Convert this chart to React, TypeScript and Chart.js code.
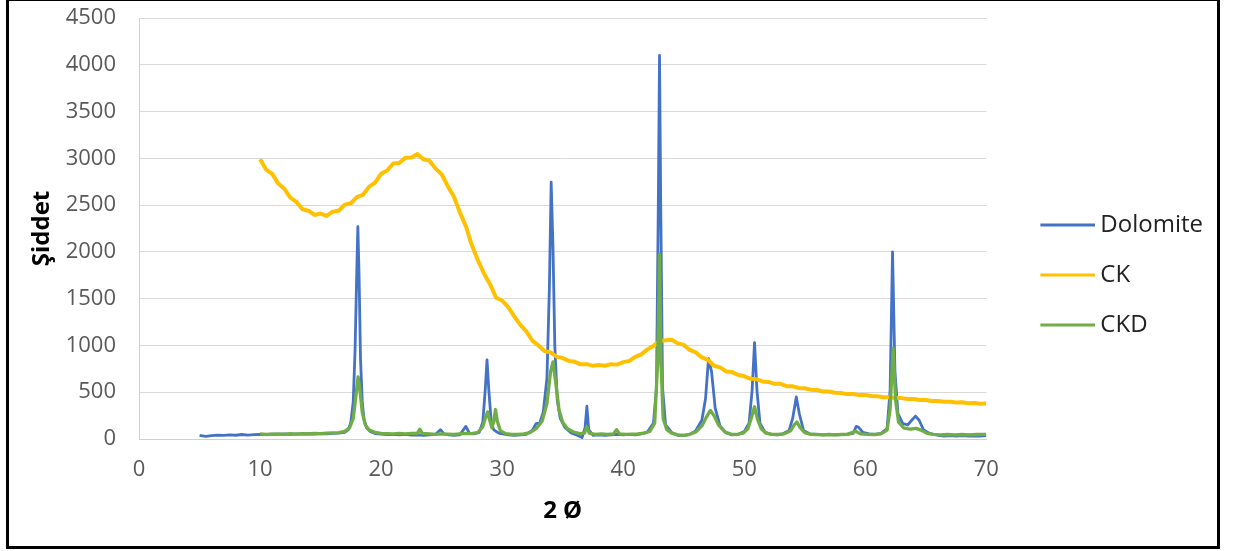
import React, { useEffect, useRef } from "react";
import { Chart, registerables } from "chart.js";

Chart.register(...registerables);

// ---- data ----
const seriesNames = ["Dolomite", "CK", "CKD"];
const seriesColors = ["#4472C4", "#FFC000", "#70AD47"];

const xTickValues = [0, 10, 20, 30, 40, 50, 60, 70];
const yTickValues = [0, 500, 1000, 1500, 2000, 2500, 3000, 3500, 4000, 4500];

const dolomiteX = [
  5, 5.5, 6, 6.5, 7, 7.5, 8, 8.5, 9, 9.5, 10, 10.5, 11, 11.5, 12, 12.5, 13, 13.5, 14, 14.5, 15, 15.5, 16, 16.5,
  17, 17.3, 17.5, 17.7, 17.85, 18.0, 18.08, 18.18, 18.3, 18.45, 18.6, 18.8, 19.1, 19.5, 20, 20.5, 21, 21.5, 22,
  22.5, 23, 23.5, 24, 24.5, 24.9, 25.2, 25.6, 26, 26.5, 27.0, 27.3, 27.7, 28.1, 28.4, 28.6, 28.75, 28.9, 29.1,
  29.3, 29.5, 29.8, 30.5, 31, 31.5, 32, 32.5, 32.8, 33.1, 33.4, 33.7, 33.9, 34.05, 34.2, 34.35, 34.55, 34.8, 35.2,
  35.7, 36.2, 36.6, 36.85, 37.0, 37.15, 37.5, 38, 38.5, 39, 39.5, 40, 40.5, 41, 41.5, 42, 42.5, 42.75, 42.9, 43.0,
  43.1, 43.25, 43.5, 44, 44.5, 45, 45.5, 46, 46.5, 46.8, 47.05, 47.3, 47.6, 48, 48.5, 49, 49.5, 50, 50.4, 50.65,
  50.85, 51.05, 51.3, 51.7, 52.2, 52.7, 53.2, 53.7, 54.0, 54.3, 54.55, 54.9, 55.4, 56, 56.5, 57, 57.5, 58, 58.5,
  59, 59.25, 59.45, 59.8, 60.3, 60.8, 61.3, 61.8, 62.05, 62.25, 62.45, 62.7, 63.1, 63.5, 63.8, 64.15, 64.45, 64.8,
  65.3, 66, 66.5, 67, 67.5, 68, 68.5, 69, 69.5, 70,
];
const dolomiteY = [
  40, 28, 35, 42, 38, 45, 40, 48, 42, 46, 50, 48, 52, 50, 55, 50, 54, 52, 56, 53, 58, 55, 60, 62,
  72, 100, 180, 400, 950, 1850, 2270, 1750, 850, 380, 200, 120, 80, 58, 52, 48, 50, 45, 50,
  42, 45, 40, 45, 50, 100, 55, 45, 40, 45, 135, 60, 55, 70, 180, 520, 845, 520, 180,
  100, 80, 60, 45, 40, 45, 50, 95, 165, 170, 290, 650, 1600, 2745, 2050, 1000, 420, 220, 120,
  65, 40, 15, 120, 350, 100, 40, 45, 40, 45, 50, 45, 50, 45, 55, 75, 170, 550, 2500, 4100,
  2500, 550, 150, 70, 40, 35, 50, 90, 200, 430, 860, 720, 330, 140, 65, 45, 50, 80, 170, 520,
  1030, 520, 170, 75, 50, 45, 55, 90, 220, 450, 270, 90, 55, 50, 45, 50, 45, 48, 50,
  60, 135, 125, 70, 55, 50, 60, 110, 520, 2000, 720, 270, 165, 150, 195, 245, 200, 100,
  60, 40, 30, 35, 30, 35, 30, 32, 30, 35,
];

const ckX = [
  10, 10.5, 11, 11.5, 12, 12.5, 13, 13.5, 14, 14.5, 15, 15.5, 16, 16.5, 17, 17.5, 18, 18.5, 19, 19.5,
  20, 20.5, 21, 21.5, 22, 22.5, 23, 23.5, 24, 24.5, 25, 25.5, 26, 26.5, 27, 27.5, 28, 28.5, 29, 29.5,
  30, 30.5, 31, 31.5, 32, 32.5, 33, 33.5, 34, 34.5, 35, 35.5, 36, 36.5, 37, 37.5, 38, 38.5, 39, 39.5,
  40, 40.5, 41, 41.5, 42, 42.5, 43, 43.5, 44, 44.5, 45, 45.5, 46, 46.5, 47, 47.5, 48, 48.5, 49, 49.5,
  50, 50.5, 51, 51.5, 52, 52.5, 53, 53.5, 54, 54.5, 55, 55.5, 56, 56.5, 57, 57.5, 58, 58.5, 59, 59.5,
  60, 60.5, 61, 61.5, 62, 62.5, 63, 63.5, 64, 64.5, 65, 65.5, 66, 66.5, 67, 67.5, 68, 68.5, 69, 69.5, 70,
];
const ckY = [
  2990, 2880, 2835, 2730, 2675, 2580, 2535, 2455, 2440, 2395, 2410, 2385, 2430, 2440, 2505, 2520, 2585, 2610, 2695, 2740,
  2835, 2870, 2945, 2950, 3005, 3010, 3045, 2990, 2975, 2890, 2830, 2705, 2595, 2425, 2275, 2070, 1910, 1770, 1655, 1510,
  1480, 1410, 1310, 1220, 1150, 1050, 1000, 940, 925, 880, 865, 835, 825, 798, 800, 782, 792, 783, 800, 795,
  822, 835, 878, 905, 958, 995, 1048, 1055, 1062, 1022, 1006, 952, 925, 872, 846, 783, 765, 722, 715, 684,
  670, 645, 640, 615, 610, 590, 590, 565, 563, 545, 543, 526, 523, 508, 507, 494, 492, 480, 480, 469,
  470, 459, 457, 447, 447, 437, 437, 427, 427, 417, 417, 407, 407, 398, 399, 390, 392, 383, 384, 377, 380,
];

const ckdX = [
  10, 10.5, 11, 11.5, 12, 12.5, 13, 13.5, 14, 14.5, 15, 15.5, 16, 16.5, 17, 17.4, 17.7, 17.9, 18.1, 18.25, 18.45,
  18.7, 19, 19.5, 20, 20.5, 21, 21.5, 22, 22.5, 23.0, 23.2, 23.4, 24, 24.5, 25, 25.5, 26, 26.5, 27, 27.5, 28,
  28.4, 28.65, 28.8, 28.95, 29.15, 29.3, 29.45, 29.6, 29.85, 30.3, 30.8, 31.3, 31.8, 32.3, 32.8, 33.3, 33.7, 34.0,
  34.2, 34.45, 34.7, 35, 35.4, 35.9, 36.4, 36.8, 37.0, 37.2, 37.7, 38.2, 38.7, 39.2, 39.45, 39.7, 40.2, 40.7,
  41.2, 41.7, 42.2, 42.6, 42.85, 43.0, 43.12, 43.3, 43.6, 44, 44.5, 45, 45.5, 46, 46.5, 46.9, 47.2, 47.5, 47.9,
  48.4, 48.9, 49.4, 49.9, 50.3, 50.6, 50.85, 51.1, 51.4, 51.8, 52.3, 52.8, 53.3, 53.8, 54.1, 54.35, 54.6, 55,
  55.5, 56, 56.5, 57, 57.5, 58, 58.5, 59.2, 59.6, 60.2, 60.8, 61.3, 61.8, 62.05, 62.3, 62.5, 62.75, 63.2, 63.7,
  64.2, 64.6, 65.1, 65.6, 66.2, 66.8, 67.4, 68, 68.6, 69.2, 70,
];
const ckdY = [
  55, 48, 52, 55, 50, 56, 52, 58, 55, 60, 57, 62, 65, 68, 82, 120, 220, 440, 665, 520, 280,
  150, 100, 70, 60, 58, 55, 60, 55, 60, 60, 105, 60, 55, 50, 55, 52, 50, 55, 60, 58, 72,
  130, 240, 290, 210, 120, 185, 315, 190, 90, 58, 50, 48, 55, 68, 110, 190, 380, 720,
  825, 580, 310, 180, 110, 75, 58, 62, 130, 62, 50, 55, 50, 55, 100, 55, 50, 52,
  55, 62, 80, 170, 820, 1975, 820, 220, 100, 62, 45, 40, 50, 75, 140, 240, 305, 250, 145,
  75, 52, 48, 62, 110, 230, 345, 210, 110, 62, 50, 48, 55, 85, 145, 182, 125, 68,
  50, 48, 45, 48, 45, 48, 50, 82, 55, 50, 48, 55, 95, 320, 970, 420, 180, 115, 105,
  114, 95, 60, 50, 45, 48, 45, 48, 45, 48, 50,
];

const toPoints = (xs: number[], ys: number[]) => xs.map((x, i) => ({ x, y: ys[i] }));

function legendLine(color: string): HTMLCanvasElement {
  const c = document.createElement("canvas");
  c.width = 90;
  c.height = 8;
  const g = c.getContext("2d")!;
  g.strokeStyle = color;
  g.lineWidth = 3;
  g.beginPath();
  g.moveTo(35, 4);
  g.lineTo(90, 4);
  g.stroke();
  return c;
}

export default function App() {
  const canvasRef = useRef<HTMLCanvasElement | null>(null);

  useEffect(() => {
    const canvas = canvasRef.current;
    if (!canvas) return;
    const font = "'Open Sans', sans-serif";
    const seriesData = [toPoints(dolomiteX, dolomiteY), toPoints(ckX, ckY), toPoints(ckdX, ckdY)];
    const widths = [2.8, 4, 3.3];
    const chart = new Chart(canvas, {
      type: "line",
      data: {
        datasets: seriesNames.map((name, i) => ({
          label: name,
          data: seriesData[i],
          borderColor: seriesColors[i],
          backgroundColor: seriesColors[i],
          borderWidth: widths[i],
          borderJoinStyle: "round",
          pointRadius: 0,
          pointHoverRadius: 0,
          pointStyle: legendLine(seriesColors[i]) as any,
          tension: 0,
          fill: false,
          order: 3 - i,
        })),
      },
      options: {
        responsive: false,
        animation: false,
        devicePixelRatio: 1,
        layout: { padding: { left: 10, right: 30, top: 18, bottom: 19 } },
        plugins: {
          tooltip: { enabled: false },
          legend: {
            position: "right",
            labels: {
              usePointStyle: true,
              pointStyleWidth: 76,
              padding: 26,
              color: "#222",
              font: { family: font, size: 24 },
              sort: (a: any, b: any) => a.datasetIndex - b.datasetIndex,
            },
          },
        },
        scales: {
          x: {
            type: "linear",
            min: 0,
            max: 70,
            afterBuildTicks: (scale: any) => {
              scale.ticks = xTickValues.map((v) => ({ value: v }));
            },
            afterFit: (scale: any) => {
              scale.height = 93;
            },
            grid: { display: true, drawOnChartArea: false, drawTicks: true, tickLength: 18, tickColor: "rgba(0,0,0,0)" },
            border: { display: true, color: "#d0d0d0", width: 1 },
            ticks: {
              color: "#595959",
              font: { family: font, size: 22 },
              padding: 0,
              maxRotation: 0,
              callback: (v: any) => String(v),
            },
            title: {
              display: true,
              text: "2 Ø",
              color: "#000",
              font: { family: font, size: 24, weight: "bold" },
              padding: { top: 4, bottom: 6.6 },
            },
          },
          y: {
            type: "linear",
            min: 0,
            max: 4500,
            afterBuildTicks: (scale: any) => {
              scale.ticks = yTickValues.map((v) => ({ value: v }));
            },
            afterFit: (scale: any) => {
              scale.width = 129;
            },
            grid: { color: "#d9d9d9", lineWidth: 1, drawTicks: true, tickLength: 23, tickColor: "rgba(0,0,0,0)" },
            border: { display: true, color: "#d0d0d0", width: 1 },
            ticks: {
              color: "#595959",
              font: { family: font, size: 22 },
              padding: 0,
              callback: (v: any) => String(v),
            },
            title: {
              display: true,
              text: "Şiddet",
              color: "#000",
              font: { family: font, size: 24, weight: "bold" },
              padding: { top: 17.6, bottom: 4 },
            },
          },
        },
      },
    } as any);
    return () => chart.destroy();
  }, []);

  return (
    <div style={{ position: "absolute", left: 0, top: 0, width: 1243, height: 551, background: "#fff", overflow: "hidden" }}>
      <canvas ref={canvasRef} width={1243} height={551} style={{ display: "block", width: 1243, height: 551 }} />
      <div
        style={{
          position: "absolute",
          left: 6,
          top: -2,
          width: 1214,
          height: 551,
          border: "3px solid #000",
          boxSizing: "border-box",
          pointerEvents: "none",
        }}
      />
    </div>
  );
}
